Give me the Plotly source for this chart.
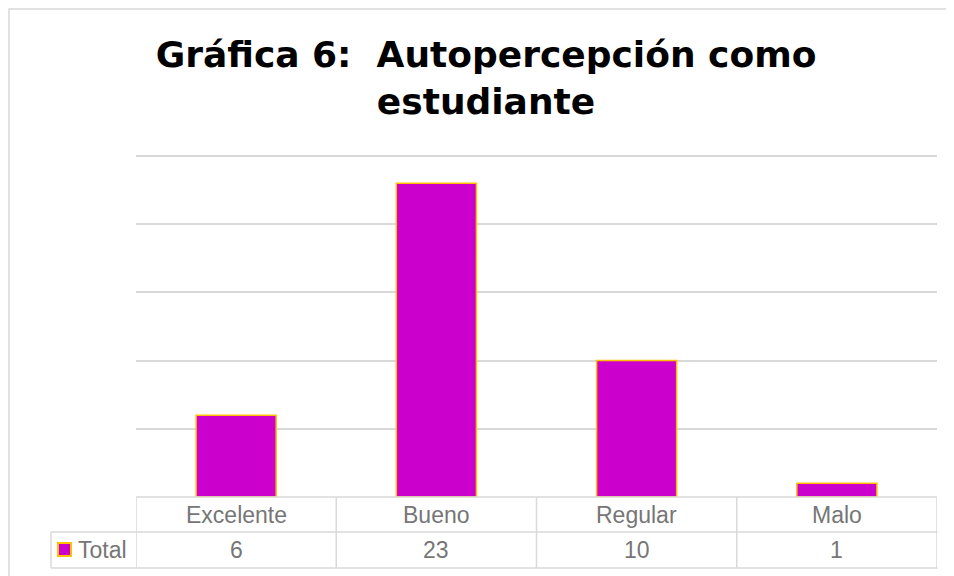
import plotly.graph_objects as go

# data
categories = ["Excelente", "Bueno", "Regular", "Malo"]
totals = [6, 23, 10, 1]
series_name = "Total"
y_ticks = [0, 5, 10, 15, 20, 25]
title_text = "<b>Gráfica 6:\u00a0 Autopercepción como<br>estudiante</b>"

# the page body has an 8px margin, so the figure is sized to fill the rest
OFF = 8
W, H = 954 - OFF, 576 - OFF
GRID = "#d9d9d9"
TEXT = "#767676"
BAR = "#cc00cc"
EDGE = "#ffc000"


def px_x(v):
    return (v - OFF) / W


def px_y(v):
    return 1 - (v - OFF) / H


fig = go.Figure(go.Bar(
    x=categories, y=totals,
    name=series_name,
    width=0.4,
    marker=dict(color=BAR, line=dict(color=EDGE, width=1.5)),
    showlegend=False,
))

# data table under the plot, drawn on the category axis
line = dict(color=GRID, width=1.5)
shapes = []
row_top, row_mid, row_bot = px_y(497), px_y(532), px_y(568)
n = len(categories)
for i in range(n + 1):
    shapes.append(dict(type="line", xref="x", yref="paper",
                       x0=i - 0.5, x1=i - 0.5, y0=row_top, y1=row_bot, line=line))
shapes.append(dict(type="line", xref="x", yref="paper",
                   x0=-0.5, x1=n - 0.5, y0=row_top, y1=row_top, line=line))
for yy in (row_mid, row_bot):
    shapes.append(dict(type="line", xref="paper", yref="paper",
                       x0=px_x(51), x1=px_x(937.5), y0=yy, y1=yy, line=line))
shapes.append(dict(type="line", xref="paper", yref="paper",
                   x0=px_x(51), x1=px_x(51), y0=row_mid, y1=row_bot, line=line))
# legend key in the table
shapes.append(dict(type="rect", xref="paper", yref="paper",
                   x0=px_x(58), x1=px_x(71), y0=px_y(543), y1=px_y(556),
                   fillcolor=BAR, line=dict(color=EDGE, width=2)))
# chart border
shapes.append(dict(type="rect", xref="paper", yref="paper",
                   x0=px_x(9), x1=px_x(980), y0=px_y(9), y1=px_y(600),
                   line=line))

cell_font = dict(family="Liberation Sans, Arial", size=23, color=TEXT)
annotations = []
for cat, val in zip(categories, totals):
    annotations.append(dict(x=cat, y=px_y(514.5), xref="x", yref="paper",
                            yanchor="middle", text=cat, showarrow=False,
                            font=cell_font))
    annotations.append(dict(x=cat, y=px_y(550), xref="x", yref="paper",
                            yanchor="middle", text=str(val), showarrow=False,
                            font=cell_font))
annotations.append(dict(x=px_x(76), y=px_y(550), xref="paper", yref="paper",
                        xanchor="left", yanchor="middle", text=series_name,
                        showarrow=False, font=cell_font))

fig.update_layout(
    width=W, height=H,
    margin=dict(l=0, r=0, t=0, b=0),
    paper_bgcolor="white", plot_bgcolor="white",
    title=dict(text=title_text, x=px_x(486), xanchor="center",
               y=px_y(67), yanchor="top",
               font=dict(family="DejaVu Sans", size=36, color="black")),
    xaxis=dict(domain=[px_x(136), px_x(937)], range=[-0.5, n - 0.5],
               showticklabels=False, showgrid=False, zeroline=False,
               showline=False, ticks=""),
    # a little headroom above 25 so the top gridline is kept
    yaxis=dict(domain=[px_y(497), px_y(153.3)], range=[0, 25.2],
               tickvals=y_ticks, showticklabels=False,
               showgrid=True, gridcolor=GRID, gridwidth=1.5,
               zeroline=False, showline=False, ticks=""),
    shapes=shapes,
    annotations=annotations,
)

fig.write_html("out.html")
